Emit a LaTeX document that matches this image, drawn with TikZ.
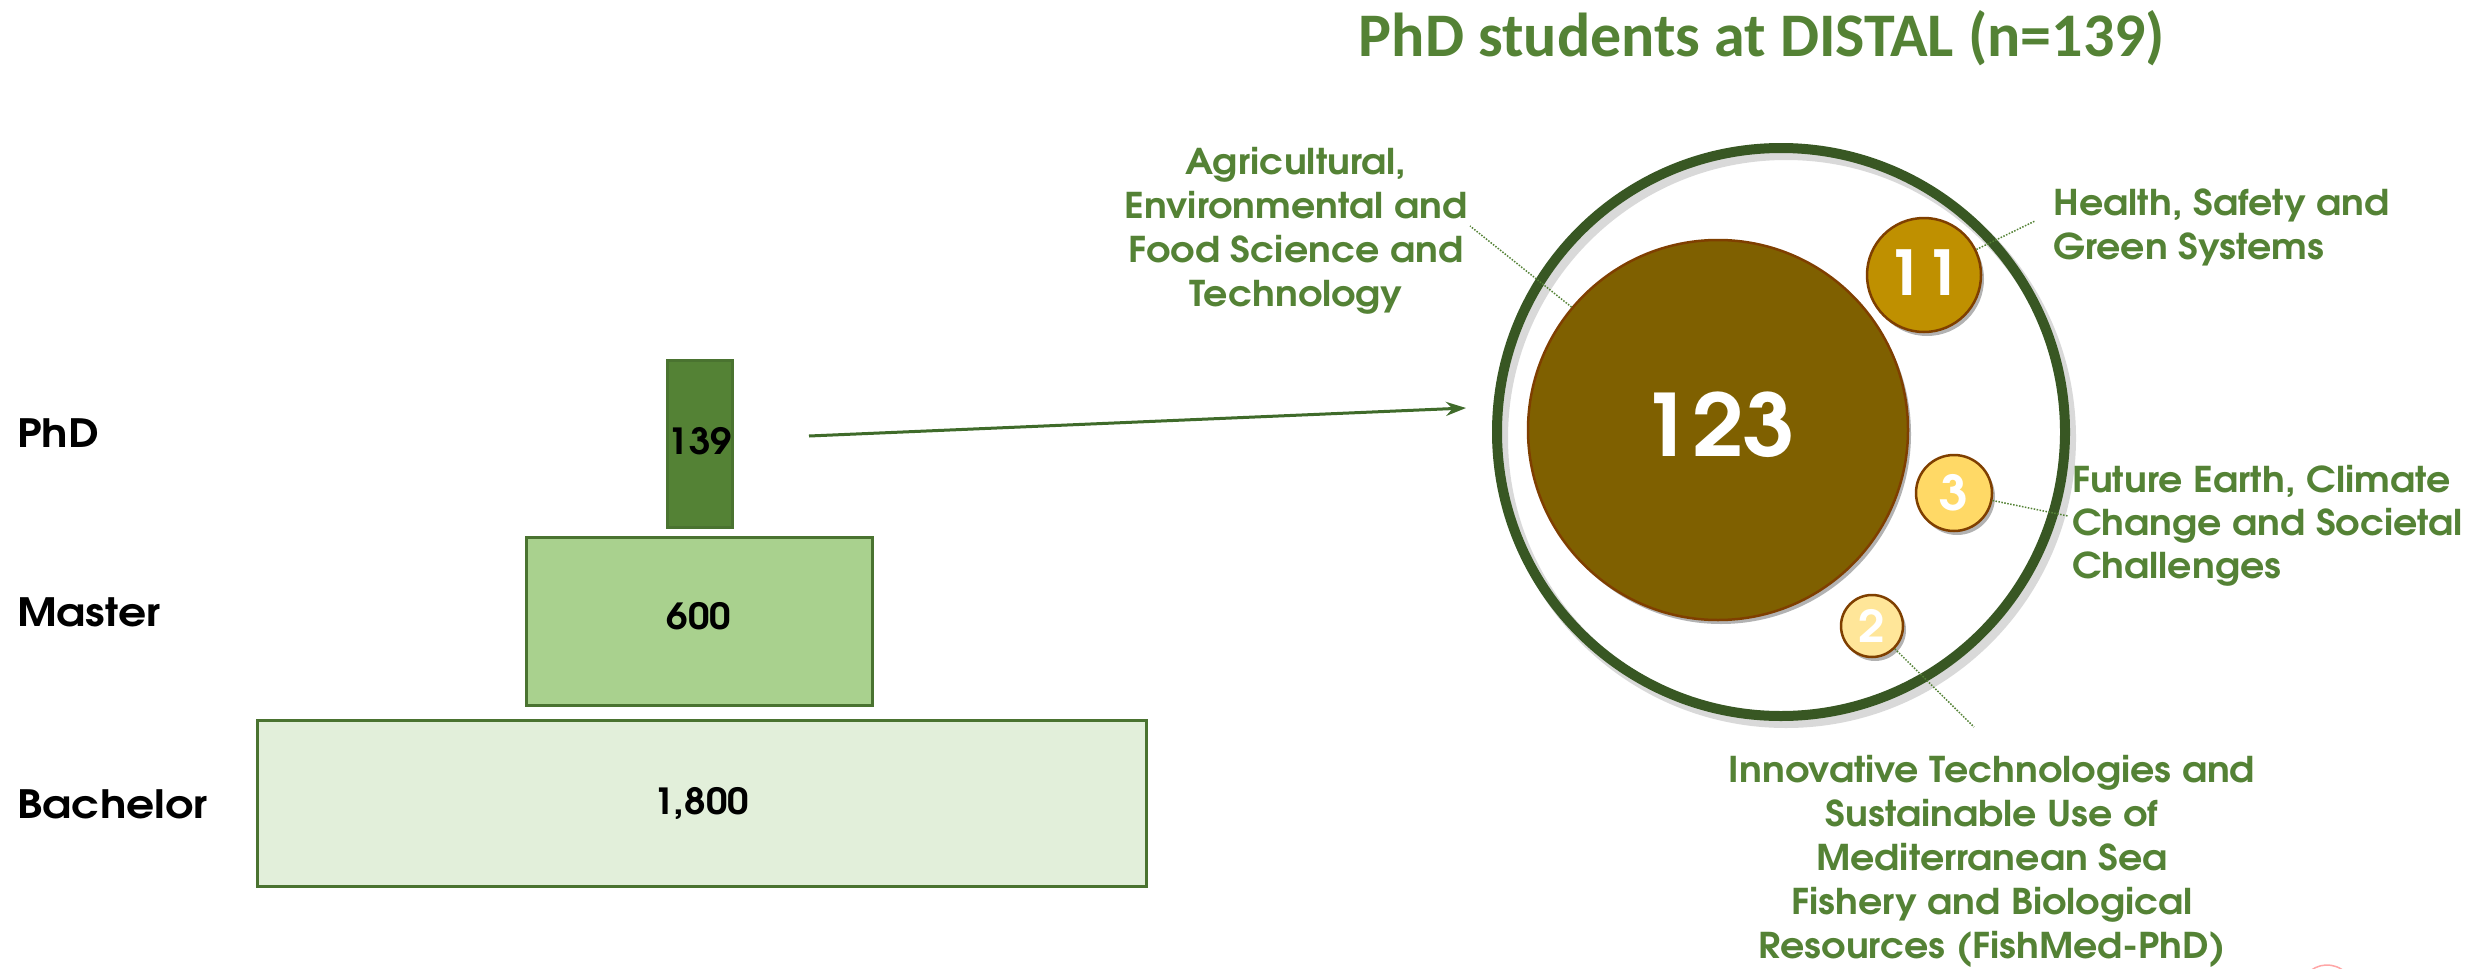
\documentclass[tikz,border=0pt]{standalone}
\usepackage{fontspec}
\setmainfont{texgyreadventor}[Extension=.otf, UprightFont=*-regular, BoldFont=*-bold, ItalicFont=*-italic, BoldItalicFont=*-bolditalic, FakeStretch=1.07]
\newfontfamily\widefont{texgyreadventor}[Extension=.otf, UprightFont=*-regular, BoldFont=*-bold, FakeStretch=1.13]
\newfontfamily\titlefont{Carlito}
\usetikzlibrary{arrows.meta,shadows}
\definecolor{tgreen}{HTML}{548235}
\definecolor{ringg}{HTML}{385723}
\definecolor{barline}{HTML}{4A7330}
\definecolor{phdg}{HTML}{548235}
\definecolor{masg}{HTML}{A9D18E}
\definecolor{bacg}{HTML}{E2EFDA}
\definecolor{cbig}{HTML}{7F6000}
\definecolor{celeven}{HTML}{BF9000}
\definecolor{cthree}{HTML}{FFD966}
\definecolor{ctwo}{HTML}{FFE699}
\definecolor{cborder}{HTML}{7F3F00}
\definecolor{arrowg}{HTML}{3F6B2A}
\tikzset{
  bar/.style={draw=barline, line width=3pt, rectangle, inner sep=0pt, text=black,
              font=\bfseries\fontsize{36}{40}\selectfont},
  lab/.style={inner sep=0pt, text=black, font=\widefont\bfseries\fontsize{39}{44}\selectfont},
  bub/.style={circle, draw=cborder, line width=2.5pt, inner sep=0pt, text=white,
              drop shadow={shadow xshift=3pt, shadow yshift=-4pt, opacity=0.3, fill=black}},
  glab/.style={inner sep=0pt, text=tgreen, font=\bfseries\fontsize{35.5}{44}\selectfont},
  leader/.style={draw=tgreen, line width=1.5pt, dash pattern=on 1.5pt off 1.5pt},
  arrowline/.style={draw=arrowg, line width=3pt, -{Stealth[length=20pt,width=14pt]}}
}
\begin{document}
\begin{tikzpicture}[x=1pt,y=-1pt]
\useasboundingbox (0,0) rectangle (2471,969);
\fill[white] (0,0) rectangle (2471,969);

% title
\node[anchor=base, inner sep=0pt, text=tgreen, font=\titlefont\bfseries\fontsize{62}{70}\selectfont] (title) at (1762,56) {PhD students at DISTAL (n=139)};

% left labels
\node[lab, anchor=base west] (phdlab) at (17,447) {PhD};
\node[lab, anchor=base west] (maslab) at (17,626) {Master};
\node[lab, anchor=base west] (baclab) at (17,818) {Bachelor};

% bars
\node[bar, fill=phdg, minimum width=62pt, minimum height=167pt] (phdbar) at (700,443.5) {\raisebox{5pt}{139}};
\node[bar, fill=masg, minimum width=346pt, minimum height=168pt] (masbar) at (699,621) {\raisebox{11pt}{600}};
\node[bar, fill=bacg, minimum width=889pt, minimum height=166pt] (bacbar) at (701.5,803) {1,800};

% arrow
\coordinate (arrS) at (809,436);
\coordinate (arrE) at (1466,408);
\draw[arrowline] (arrS) -- (arrE);

% ring
\draw[line width=12pt, black, opacity=0.15] (1786,438) circle[radius=284];
\node[circle, draw=ringg, line width=10pt, inner sep=0pt, minimum size=568pt] (ring) at (1781,432) {};

% bubbles
\node[bub, fill=cbig, minimum size=380pt, font=\bfseries\fontsize{86}{90}\selectfont] (c123) at (1718,430) {\raisebox{12pt}{123}};
\node[bub, fill=celeven, minimum size=114pt, font=\bfseries\fontsize{62}{70}\selectfont] (c11) at (1924,275) {\raisebox{4pt}{11}};
\node[bub, fill=cthree, minimum size=76pt, font=\bfseries\fontsize{48}{54}\selectfont] (c3) at (1954,493) {3};
\node[bub, fill=ctwo, minimum size=62pt, font=\bfseries\fontsize{44}{50}\selectfont] (c2) at (1872,626) {\raisebox{-2pt}{2}};

% category labels (anchor base = baseline of last line)
\node[glab, align=center, anchor=base] (agri) at (1296,306) {Agricultural,\\Environmental and\\Food Science and\\Technology};
\node[glab, align=left, anchor=base west] (health) at (2053,259) {Health, Safety and\\Green Systems};
\node[glab, align=left, anchor=base west, font=\bfseries\fontsize{35.5}{43}\selectfont] (future) at (2072,578) {Future Earth, Climate\\Change and Societal\\Challenges};
\node[glab, align=center, anchor=base] (innov) at (1992,958) {Innovative Technologies and\\Sustainable Use of\\Mediterranean Sea\\Fishery and Biological\\Resources (FishMed-PhD)};

% leaders
\coordinate (agriEnd) at (1470,226);
\coordinate (healthEnd) at (2035,221);
\coordinate (futEnd) at (2068,516);
\coordinate (innEnd) at (1974,727);
\draw[leader] (c123.140) -- (agriEnd);
\draw[leader] (c11.26) -- (healthEnd);
\draw[leader] (c3.-11) -- (futEnd);
\draw[leader] (c2.-45) -- (innEnd);

% faint logo edge at bottom right
\draw[red!35, line width=1.5pt] (2327,992) ++(200:27) arc[start angle=200, end angle=340, radius=27];
\end{tikzpicture}
\end{document}
